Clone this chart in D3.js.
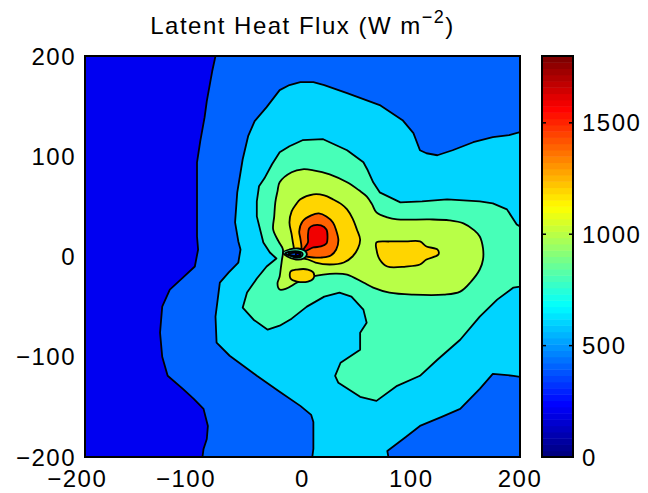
<!DOCTYPE html>
<html><head><meta charset="utf-8">
<script src="https://cdn.jsdelivr.net/npm/d3@7"></script>
<style>
html,body{margin:0;padding:0;background:#fff;}
svg{display:block;}
text{font-family:"Liberation Sans",Arial,Helvetica,sans-serif;fill:#000;}
</style>
</head><body>
<svg id="chart" width="648" height="493"></svg>
<script>
// ---------- data ----------
const levels = [200, 400, 600, 800, 1000, 1200, 1400, 1600];
const xTicks = [-200, -100, 0, 100, 200];
const yTicks = [-200, -100, 0, 100, 200];
const cbTicks = [0, 500, 1000, 1500];
const cbDomain = [0, 1800];
const titleMain = "Latent Heat Flux (W m";
const titleSup = "\u22122";

// superlevel-set outlines (x, y in km) for each contour level
const contour400 = [[-80,200],[-83,185],[-85,173],[-88,155],[-90,139],[-94,115],[-97,94],[-97,60],[-97,20],[-96,7],[-99,-10],[-110,-21],[-122,-33],[-129,-50],[-131,-76],[-129,-100],[-124,-119],[-110,-132],[-100,-142],[-91,-152],[-87,-169],[-88,-182],[-91,-192],[-92,-200],[200,-200],[200,200]];
const contour600 = [[200,124],[190,121],[175,119],[157,114],[138,106],[124,101],[114,103],[108,106],[102,123],[92,136],[71,151],[41,163],[20,171],[10,174],[-2,174],[-12,171],[-21,166],[-33,149],[-44,135],[-50,120],[-55,97],[-60,64],[-62,34],[-59,15],[-57,7],[-59,-6],[-68,-16],[-76,-26],[-80,-60],[-79,-86],[-67,-99],[-42,-119],[-21,-135],[-2,-149],[8,-158],[10,-165],[10,-192],[9,-200],[79,-200],[78,-194],[95,-180],[108,-169],[128,-160],[145,-152],[163,-132],[175,-117],[194,-119],[200,-120]];
const contour800 = [[200,30],[197,32],[188,47],[175,53],[163,55],[133,57],[110,55],[90,54],[71,64],[65,74],[60,86],[56,94],[41,106],[19,117],[0,116],[-12,110],[-21,104],[-28,92],[-35,78],[-40,70],[-42,55],[-42,40],[-36,14],[-30,4],[-24,-2],[-33,-10],[-42,-22],[-51,-36],[-55,-51],[-45,-63],[-32,-73],[-21,-69],[-10,-62],[4,-50],[20,-40],[34,-36],[45,-40],[56,-53],[59,-66],[53,-76],[53,-93],[35,-106],[30,-119],[33,-126],[53,-140],[68,-144],[87,-129],[108,-119],[124,-103],[145,-83],[163,-60],[179,-43],[194,-31],[200,-30]];
const contour1000 = [[-21,74],[-10,84],[0,87],[10,86],[25,82],[41,74],[52,66],[59,60],[64,52],[68,44],[78,39],[87,37],[117,37],[135,36],[148,33],[158,26],[163,20],[166,8],[166,-3],[163,-13],[155,-25],[145,-35],[130,-38],[102,-38],[80,-36],[65,-31],[56,-26],[41,-18],[30,-17],[19,-18],[5,-21],[-5,-26],[-15,-32],[-21,-33],[-23,-27],[-21,-20],[-20,-12],[-19,-4],[-18,7],[-22,15],[-27,27],[-26,40],[-25,54],[-23,65]];
const contour1200a = [[-12,34],[-10,45],[-6,52],[-2,57],[10,62],[20,61],[28,57],[36,52],[41,47],[46,38],[50,27],[53,17],[51,8],[46,0],[38,-6],[25,-8],[12,-6],[5,-3],[-2,-1],[-9,2],[-8,8],[-9,15],[-10,22]];
const contour1200b = [[68,14],[80,15],[95,15],[108,15],[114,10],[124,7],[125,2],[114,-3],[108,-8],[95,-10],[78,-10],[71,-3],[68,7]];
const contour1200c = [[-11,-15],[-5,-13],[5,-13],[10,-16],[10,-22],[5,-25],[-5,-25],[-11,-22]];
const contour1400 = [[-3,25],[0,35],[8,41],[15,43],[22,40],[28,34],[31,26],[33,16],[31,7],[26,1],[18,-1],[10,-1],[3,0],[-3,2],[-1,8],[-2,18]];
const contour1600 = [[6,28],[10,31],[17,31],[22,27],[23,20],[22,13],[17,10],[10,9],[4,6],[-1,4],[2,9],[5,14],[5,20]];
// local minimum near the centre (sublevel-set outlines)
const hole1000 = [[-18,4],[-12,7],[-4,8],[2,6],[4,2],[1,-2],[-6,-3],[-14,0]];
const hole800 = [[-16,3],[-10,5],[-4,5],[0,3],[-1,0],[-6,-1],[-12,1]];
const hole600 = [[-13,2.5],[-7,4],[-2,3],[-2,1],[-7,0.5]];
const hole400 = [[-6,3],[-3,3],[-3,1],[-6,1]];

// ---------- chart ----------
const svg = d3.select("#chart");
const W = 648, H = 493;
svg.append("rect").attr("width", W).attr("height", H).attr("fill", "#fff");

const plot = {left: 85, right: 520, top: 56, bottom: 457};
const x = d3.scaleLinear().domain([-200, 200]).range([plot.left, plot.right]);
const y = d3.scaleLinear().domain([-200, 200]).range([plot.bottom, plot.top]);

function jet(t) {
  const c = v => Math.max(0, Math.min(1, v));
  const r = c(Math.min(4 * t - 1.5, -4 * t + 4.5));
  const g = c(Math.min(4 * t - 0.5, -4 * t + 3.5));
  const b = c(Math.min(4 * t + 0.5, -4 * t + 2.5));
  return d3.rgb(Math.round(r * 255), Math.round(g * 255), Math.round(b * 255)).toString();
}
const nColors = 64;
const levelColor = L => jet(Math.min(nColors - 1, Math.floor((L - cbDomain[0]) / (cbDomain[1] - cbDomain[0]) * nColors)) / (nColors - 1));

// edge: polygon runs along the plot border (drawn with straight segments)
const regions = [
  {level: 400, pts: contour400, edge: true},
  {level: 600, pts: contour600, edge: true},
  {level: 800, pts: contour800, edge: true},
  {level: 1000, pts: contour1000},
  {level: 1200, pts: contour1200a},
  {level: 1200, pts: contour1200b},
  {level: 1200, pts: contour1200c},
  {level: 1400, pts: contour1400},
  {level: 1600, pts: contour1600},
  {level: 800, pts: hole1000},
  {level: 600, pts: hole800},
  {level: 400, pts: hole600},
  {level: 200, pts: hole400}
];

svg.append("defs").append("clipPath").attr("id", "clip")
  .append("rect").attr("x", plot.left).attr("y", plot.top)
  .attr("width", plot.right - plot.left).attr("height", plot.bottom - plot.top);

const g = svg.append("g").attr("clip-path", "url(#clip)");
g.append("rect").attr("x", plot.left).attr("y", plot.top)
  .attr("width", plot.right - plot.left).attr("height", plot.bottom - plot.top)
  .attr("fill", levelColor(levels[0]));

const lineStraight = d3.line().x(d => x(d[0])).y(d => y(d[1])).curve(d3.curveLinearClosed);
const lineSmooth = d3.line().x(d => x(d[0])).y(d => y(d[1])).curve(d3.curveCatmullRomClosed.alpha(0.5));
g.selectAll("path.region").data(regions).join("path")
  .attr("class", "region")
  .attr("d", d => (d.edge ? lineStraight : lineSmooth)(d.pts))
  .attr("fill", d => levelColor(d.level))
  .attr("stroke", "#000")
  .attr("stroke-width", 1.8)
  .attr("stroke-linejoin", "round");

// frame
svg.append("rect").attr("x", plot.left).attr("y", plot.top)
  .attr("width", plot.right - plot.left).attr("height", plot.bottom - plot.top)
  .attr("fill", "none").attr("stroke", "#000").attr("stroke-width", 2);

const fs = 24, ls = 1.5;
function styleText(sel) {
  return sel.attr("font-size", fs).attr("letter-spacing", ls);
}
// measurement helper
const meas = styleText(svg.append("text").attr("x", -1000).attr("y", -1000));
function textW(s) { meas.text(s); return meas.node().getComputedTextLength(); }
const fmt = d3.format("d");

// x tick labels (digits centred on tick, minus hangs left)
svg.append("g").selectAll("text").data(xTicks).join("text")
  .call(styleText)
  .attr("text-anchor", "middle")
  .attr("x", d => {
    const full = textW(fmt(d));
    const digits = textW(fmt(Math.abs(d)));
    return x(d) - (full - digits) / 2;
  })
  .attr("y", 487)
  .text(d => fmt(d));

// y tick labels
svg.append("g").selectAll("text").data(yTicks).join("text")
  .call(styleText)
  .attr("text-anchor", "end")
  .attr("x", plot.left - 9)
  .attr("y", d => y(d))
  .attr("dy", "0.36em")
  .text(d => fmt(d));

// title
const title = svg.append("text").attr("x", (plot.left + plot.right) / 2).attr("y", 34)
  .attr("text-anchor", "middle").attr("font-size", 24).attr("letter-spacing", 1.5);
title.append("tspan").text(titleMain);
title.append("tspan").attr("dy", -11).attr("font-size", 18).text(titleSup);
title.append("tspan").attr("dy", 11).text(")");

// colorbar
const cb = {left: 542, right: 573};
const cy = d3.scaleLinear().domain(cbDomain).range([plot.bottom, plot.top]);
const step = (cbDomain[1] - cbDomain[0]) / nColors;
const cbColors = d3.range(nColors).map(i => ({v0: cbDomain[0] + i * step, v1: cbDomain[0] + (i + 1) * step, c: jet(i / (nColors - 1))}));
svg.append("g").selectAll("rect").data(cbColors).join("rect")
  .attr("x", cb.left).attr("width", cb.right - cb.left)
  .attr("y", d => cy(d.v1)).attr("height", d => cy(d.v0) - cy(d.v1) + 0.5)
  .attr("fill", d => d.c);
svg.append("rect").attr("x", cb.left).attr("y", plot.top)
  .attr("width", cb.right - cb.left).attr("height", plot.bottom - plot.top)
  .attr("fill", "none").attr("stroke", "#000").attr("stroke-width", 2);
const tk = svg.append("g");
cbTicks.filter(v => v > cbDomain[0]).forEach(v => {
  tk.append("line").attr("x1", cb.left).attr("x2", cb.left + 4).attr("y1", cy(v)).attr("y2", cy(v)).attr("stroke", "#000").attr("stroke-width", 1.5);
  tk.append("line").attr("x1", cb.right).attr("x2", cb.right - 4).attr("y1", cy(v)).attr("y2", cy(v)).attr("stroke", "#000").attr("stroke-width", 1.5);
});
svg.append("g").selectAll("text").data(cbTicks).join("text")
  .call(styleText)
  .attr("text-anchor", "start")
  .attr("x", cb.right + 9)
  .attr("y", d => cy(d))
  .attr("dy", "0.36em")
  .text(d => fmt(d));
meas.remove();
</script>
</body></html>
